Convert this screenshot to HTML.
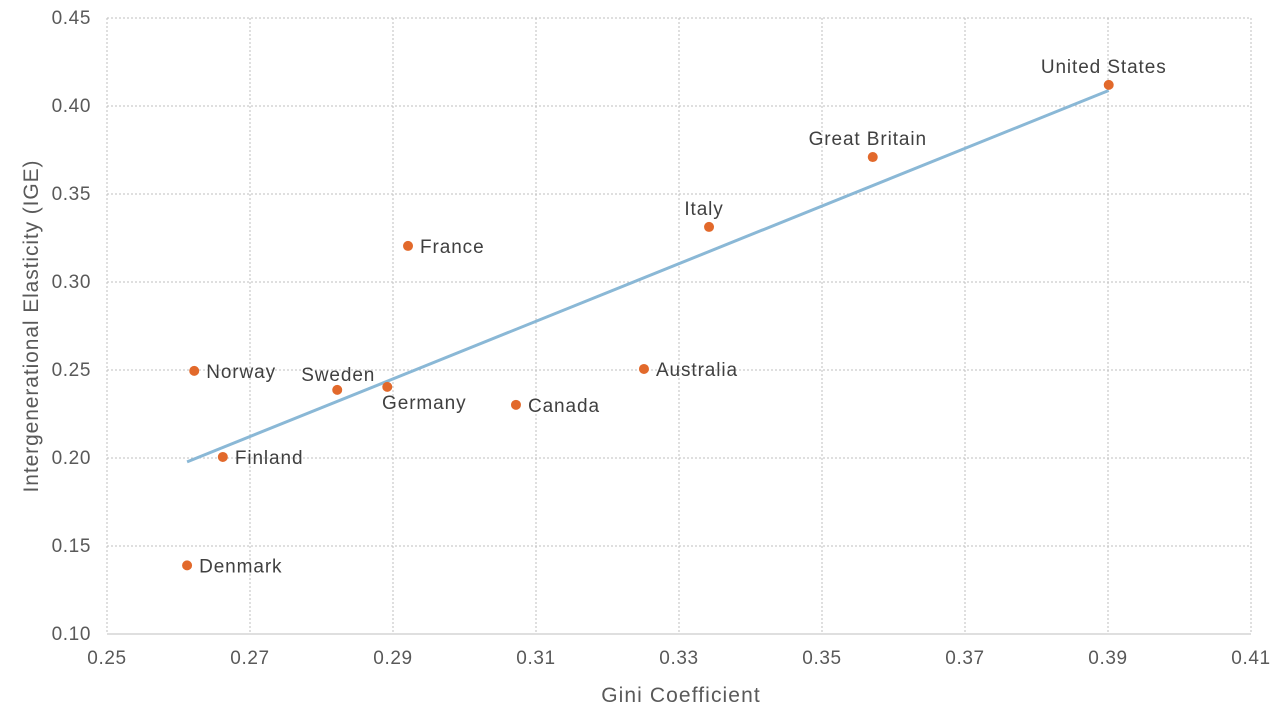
<!DOCTYPE html>
<html><head><meta charset="utf-8"><style>
body{margin:0;background:#fff;}
svg{display:block;font-family:"Liberation Sans",sans-serif;}
</style></head><body>
<svg id="chart" width="1280" height="720"></svg>
<script>
const countries=["Denmark","Norway","Finland","Sweden","Germany","France","Canada","Australia","Italy","Great Britain","United States"];
const gini=[0.2612,0.2622,0.2662,0.2822,0.2892,0.2921,0.3072,0.3251,0.3342,0.3571,0.3901];
const ige=[0.139,0.2495,0.2006,0.2387,0.2404,0.3205,0.2302,0.2506,0.3313,0.371,0.412];
const xTicks=[0.25,0.27,0.29,0.31,0.33,0.35,0.37,0.39,0.41];
const yTicks=[0.10,0.15,0.20,0.25,0.30,0.35,0.40,0.45];
const labelPos=["r","r","r","tl","bl","r","r","r","t","t","t"];
const NS="http://www.w3.org/2000/svg";
const svg=document.getElementById('chart');
const L=107,R=1251,T=18,B=634;
const X=v=>L+(v-0.25)/(0.16)*(R-L);
const Y=v=>B-(v-0.10)/(0.35)*(B-T);
function mk(t,a,txt){const e=document.createElementNS(NS,t);for(const k in a)e.setAttribute(k,a[k]);if(txt!==undefined)e.textContent=txt;svg.appendChild(e);return e;}
xTicks.forEach(v=>{
 const g=mk('line',{x1:X(v),x2:X(v),y1:T,y2:B,stroke:'#bfbfbf','stroke-dasharray':'2,2'});
 
 
 const t=mk('text',{x:X(v),y:B+30,'text-anchor':'middle','font-size':19,'letter-spacing':0.6,fill:'#595959'},v.toFixed(2));
 
 
});
yTicks.forEach(v=>{
 const g=mk('line',{x1:L,x2:R,y1:Y(v),y2:Y(v),stroke:'#bfbfbf','stroke-dasharray':'2,2'});
 
 
 const t=mk('text',{x:L-16,y:Y(v)+6,'text-anchor':'end','font-size':19,'letter-spacing':0.6,fill:'#595959'},v.toFixed(2));
 
 
});
const ax=mk('line',{x1:L,x2:R,y1:B,y2:B,stroke:'#bfbfbf'});


const n=gini.length;const mx=gini.reduce((a,b)=>a+b)/n,my=ige.reduce((a,b)=>a+b)/n;
let sxy=0,sxx=0;for(let i=0;i<n;i++){sxy+=(gini[i]-mx)*(ige[i]-my);sxx+=(gini[i]-mx)**2;}
const sl=sxy/sxx,ic=my-sl*mx;const x0=Math.min(...gini),x1=Math.max(...gini);
const tr=mk('line',{x1:X(x0),y1:Y(ic+sl*x0),x2:X(x1),y2:Y(ic+sl*x1),stroke:'#8ab8d6','stroke-width':3});


gini.forEach((g,i)=>{
 const cx=X(g),cy=Y(ige[i]);
 const c=mk('circle',{cx:cx,cy:cy,r:5,fill:'#e2692b'});
 
 
 let a={x:cx+12,y:cy+7,'text-anchor':'start'};
 const p=labelPos[i];
 if(p==='t')a={x:cx-5,y:cy-12,'text-anchor':'middle'};
 if(p==='tl')a={x:cx+1,y:cy-9,'text-anchor':'middle'};
 if(p==='bl')a={x:cx+37,y:cy+22,'text-anchor':'middle'};
 a['font-size']=19;a['letter-spacing']=0.9;a.fill='#404040';
 const t=mk('text',a,countries[i]);
 
 
});
const xt=mk('text',{x:(L+R)/2+2,y:702,'text-anchor':'middle','font-size':21,'letter-spacing':1.1,fill:'#595959'},'Gini Coefficient');


const yt=mk('text',{x:0,y:0,'text-anchor':'middle','font-size':21,'letter-spacing':0.9,fill:'#595959',transform:'translate(38,326) rotate(-90)'},'Intergenerational Elasticity (IGE)');


</script>
</body></html>
